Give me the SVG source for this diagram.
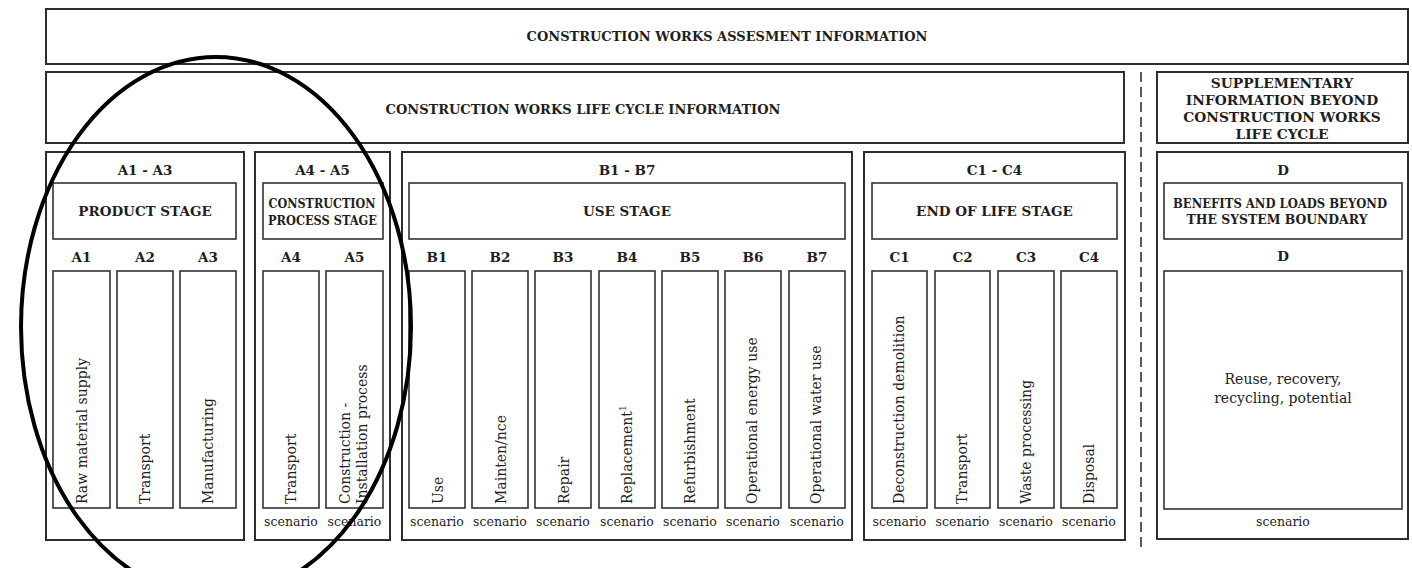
<svg xmlns="http://www.w3.org/2000/svg" width="1412" height="568" viewBox="0 0 1412 568">
<style>
.ob{fill:#fff;stroke:#2e2e2e;stroke-width:2}
.ib{fill:#fff;stroke:#333;stroke-width:1.6}
.h{font-family:"DejaVu Serif","Liberation Serif",serif;font-weight:bold;font-size:13px;fill:#1e1e1e;text-anchor:middle}
.hs{font-family:"DejaVu Serif","Liberation Serif",serif;font-weight:bold;font-size:13.5px;fill:#1e1e1e;text-anchor:middle}
.sp{font-size:13.8px}
.bn{font-size:12.8px}
.cp{font-size:12.5px}
.v{font-family:"DejaVu Serif","Liberation Serif",serif;font-size:14px;fill:#1e1e1e;text-anchor:start}
.s{font-family:"DejaVu Serif","Liberation Serif",serif;font-size:12.5px;fill:#1e1e1e;text-anchor:middle}
.n{font-family:"DejaVu Serif","Liberation Serif",serif;font-size:14px;fill:#1e1e1e;text-anchor:middle}
</style>
<rect width="1412" height="568" fill="#fff"/>

<g id="assessment">
<rect class="ob" x="46" y="9" width="1362" height="55"/>
<text class="h" x="727" y="41">CONSTRUCTION WORKS ASSESMENT INFORMATION</text>
</g>

<g id="lifecycle">
<rect class="ob" x="46" y="72" width="1078" height="71"/>
<text class="h" x="583" y="114">CONSTRUCTION WORKS LIFE CYCLE INFORMATION</text>
</g>

<g id="supplementary">
<rect class="ob" x="1157" y="72" width="251" height="71"/>
<text class="h sp" x="1282" y="88">SUPPLEMENTARY</text>
<text class="h sp" x="1282" y="105">INFORMATION BEYOND</text>
<text class="h sp" x="1282" y="122">CONSTRUCTION WORKS</text>
<text class="h sp" x="1282" y="139">LIFE CYCLE</text>
</g>

<g id="connectors">
<line x1="1141" y1="72" x2="1141" y2="548" stroke="#333" stroke-width="1.6" stroke-dasharray="10 5"/>
</g>

<g id="stageA13">
<rect class="ob" x="46" y="152" width="198" height="388"/>
<text class="hs" x="145" y="175">A1 - A3</text>
<rect class="ib" x="53" y="183" width="183" height="56"/>
<text class="hs" x="145" y="216">PRODUCT STAGE</text>
<text class="hs" x="81.5" y="262">A1</text>
<text class="hs" x="145" y="262">A2</text>
<text class="hs" x="208" y="262">A3</text>
<rect class="ib" x="53" y="271" width="57" height="237"/>
<rect class="ib" x="117" y="271" width="56" height="237"/>
<rect class="ib" x="180" y="271" width="56" height="237"/>
<text class="v" transform="translate(86.5,504) rotate(-90)">Raw material supply</text>
<text class="v" transform="translate(150,504) rotate(-90)">Transport</text>
<text class="v" transform="translate(213,504) rotate(-90)">Manufacturing</text>
</g>

<g id="stageA45">
<rect class="ob" x="255" y="152" width="135" height="388"/>
<text class="hs" x="322.5" y="175">A4 - A5</text>
<rect class="ib" x="263" y="183" width="120" height="56"/>
<text class="h cp" x="322" y="208" textLength="107" lengthAdjust="spacingAndGlyphs">CONSTRUCTION</text>
<text class="h cp" x="322.5" y="225" textLength="109" lengthAdjust="spacingAndGlyphs">PROCESS STAGE</text>
<text class="hs" x="291" y="262">A4</text>
<text class="hs" x="354.5" y="262">A5</text>
<rect class="ib" x="263" y="271" width="56" height="237"/>
<rect class="ib" x="326" y="271" width="57" height="237"/>
<text class="v" transform="translate(296,504) rotate(-90)">Transport</text>
<text class="v" transform="translate(349.5,504) rotate(-90)">Construction -</text>
<text class="v" transform="translate(367,504) rotate(-90)">Installation process</text>
<text class="s" x="291" y="526">scenario</text>
<text class="s" x="354.5" y="526">scenario</text>
</g>

<g id="stageB">
<rect class="ob" x="402" y="152" width="450" height="388"/>
<text class="hs" x="627" y="175">B1 - B7</text>
<rect class="ib" x="409" y="183" width="436" height="56"/>
<text class="hs" x="627" y="216">USE STAGE</text>
<text class="hs" x="437" y="262">B1</text>
<text class="hs" x="500" y="262">B2</text>
<text class="hs" x="563" y="262">B3</text>
<text class="hs" x="627" y="262">B4</text>
<text class="hs" x="690" y="262">B5</text>
<text class="hs" x="753" y="262">B6</text>
<text class="hs" x="817" y="262">B7</text>
<rect class="ib" x="409" y="271" width="56" height="237"/>
<rect class="ib" x="472" y="271" width="56" height="237"/>
<rect class="ib" x="535" y="271" width="56" height="237"/>
<rect class="ib" x="599" y="271" width="56" height="237"/>
<rect class="ib" x="662" y="271" width="56" height="237"/>
<rect class="ib" x="725" y="271" width="56" height="237"/>
<rect class="ib" x="789" y="271" width="56" height="237"/>
<text class="v" transform="translate(443,504) rotate(-90)">Use</text>
<text class="v" transform="translate(506,504) rotate(-90)">Mainten/nce</text>
<text class="v" transform="translate(569,504) rotate(-90)">Repair</text>
<text class="v" transform="translate(632,504) rotate(-90)">Replacement<tspan font-size="9" dy="-6">1</tspan></text>
<text class="v" transform="translate(695,504) rotate(-90)">Refurbishment</text>
<text class="v" transform="translate(757,504) rotate(-90)">Operational energy use</text>
<text class="v" transform="translate(821,504) rotate(-90)">Operational water use</text>
<text class="s" x="437" y="526">scenario</text>
<text class="s" x="500" y="526">scenario</text>
<text class="s" x="563" y="526">scenario</text>
<text class="s" x="627" y="526">scenario</text>
<text class="s" x="690" y="526">scenario</text>
<text class="s" x="753" y="526">scenario</text>
<text class="s" x="817" y="526">scenario</text>
</g>

<g id="stageC">
<rect class="ob" x="864" y="152" width="261" height="388"/>
<text class="hs" x="994.5" y="175">C1 - C4</text>
<rect class="ib" x="872" y="183" width="245" height="56"/>
<text class="hs" x="994.5" y="216">END OF LIFE STAGE</text>
<text class="hs" x="899.5" y="262">C1</text>
<text class="hs" x="962.5" y="262">C2</text>
<text class="hs" x="1026" y="262">C3</text>
<text class="hs" x="1089" y="262">C4</text>
<rect class="ib" x="872" y="271" width="55" height="237"/>
<rect class="ib" x="935" y="271" width="55" height="237"/>
<rect class="ib" x="998" y="271" width="56" height="237"/>
<rect class="ib" x="1061" y="271" width="56" height="237"/>
<text class="v" transform="translate(904,504) rotate(-90)">Deconstruction demolition</text>
<text class="v" transform="translate(967,504) rotate(-90)">Transport</text>
<text class="v" transform="translate(1030.5,504) rotate(-90)">Waste processing</text>
<text class="v" transform="translate(1093.5,504) rotate(-90)">Disposal</text>
<text class="s" x="899.5" y="526">scenario</text>
<text class="s" x="962.5" y="526">scenario</text>
<text class="s" x="1026" y="526">scenario</text>
<text class="s" x="1089" y="526">scenario</text>
</g>

<g id="stageD">
<rect class="ob" x="1157" y="152" width="251" height="387"/>
<text class="hs" x="1283" y="175">D</text>
<rect class="ib" x="1164" y="183" width="238" height="56"/>
<text class="h bn" x="1280" y="208" textLength="214" lengthAdjust="spacingAndGlyphs">BENEFITS AND LOADS BEYOND</text>
<text class="h bn" x="1277" y="224" textLength="181" lengthAdjust="spacingAndGlyphs">THE SYSTEM BOUNDARY</text>
<text class="hs" x="1283" y="261">D</text>
<rect class="ib" x="1164" y="271" width="238" height="238"/>
<text class="n" x="1283" y="384">Reuse, recovery,</text>
<text class="n" x="1283" y="403">recycling, potential</text>
<text class="s" x="1283" y="526">scenario</text>
</g>

<g id="highlight">
<ellipse cx="216" cy="327" rx="195" ry="270" fill="none" stroke="#000" stroke-width="4"/>
</g>
</svg>
